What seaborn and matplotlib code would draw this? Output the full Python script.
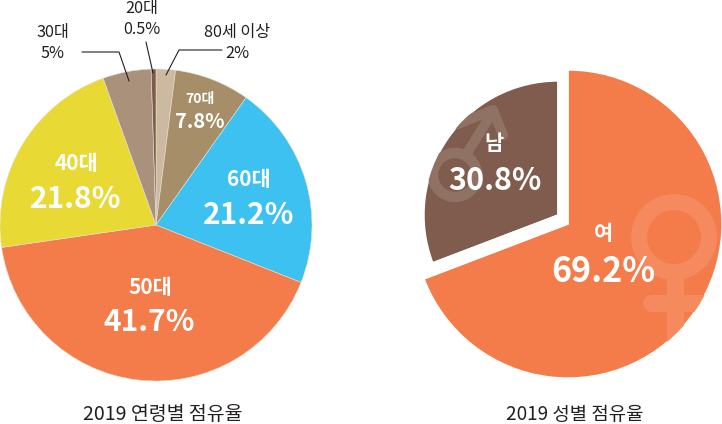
import seaborn as sns
import matplotlib.pyplot as plt
from matplotlib.patches import Circle

age_labels = ['80세 이상', '70대', '60대', '50대', '40대', '30대', '20대']
age_values = [2, 7.8, 21.2, 41.7, 21.8, 5, 0.5]
age_colors = ['#CDB9A0', '#A68F68', '#3CC1F0', '#F37C4A', '#E8D934', '#AA917B', '#7D5A4C']
gender_labels = ['남', '여']
gender_values = [30.8, 69.2]
gender_colors = ['#7F5C4D', '#F37C4A']

W, H = 722, 424
FONT = ['Noto Sans CJK KR', 'DejaVu Sans']


def py(y):
    # picture coords have y going down
    return H - y


def label(ax, x, y, s, size, color='white', weight='bold'):
    # +2 because va=center sits a little high for this font
    ax.text(x, py(y + 2), s, fontsize=size, color=color, weight=weight, family=FONT,
            ha='center', va='center')


def leader(ax, xs, ys):
    ax.plot(xs, [py(y) for y in ys], color='#231F20', lw=0.8, zorder=5)


def main():
    sns.set_theme(style='white')
    plt.rcParams['font.family'] = FONT
    fig = plt.figure(figsize=(W / 100, H / 100), dpi=100, facecolor='w')
    ax = fig.add_axes([0, 0, 1, 1])

    ax.pie(age_values, colors=age_colors, startangle=90, counterclock=False,
           center=(156, py(225)), radius=156,
           wedgeprops={'linewidth': 0.4, 'edgecolor': '#E8E0D4'})

    # the two gender slices have different centres and sizes
    male, _ = ax.pie([gender_values[0], gender_values[1]], colors=[gender_colors[0], 'none'],
                     startangle=90, counterclock=True, center=(558, py(215)), radius=134)
    female, _ = ax.pie([gender_values[1], gender_values[0]], colors=[gender_colors[1], 'none'],
                       startangle=90, counterclock=False, center=(568, py(224)), radius=154)

    # female sign, clipped by its slice
    f_col = '#F58A5E'
    ring = Circle((674, py(237)), 35, fill=False, ec=f_col, lw=16 * 0.72, zorder=3)
    ax.add_patch(ring)
    ring.set_clip_path(female[0])
    for xs, ys, cap in [([674.5, 674.5], [277, 380], 'butt'), ([651, 730], [302.5, 302.5], 'round')]:
        ln, = ax.plot(xs, [py(y) for y in ys], color=f_col, lw=17 * 0.72,
                      solid_capstyle=cap, zorder=3)
        ln.set_clip_path(female[0])

    # male sign
    m_col = '#8F7263'
    ring = Circle((455, py(175)), 22, fill=False, ec=m_col, lw=10.5 * 0.72, zorder=3)
    ax.add_patch(ring)
    ring.set_clip_path(male[0])
    for xs, ys in [([466, 492], [155, 113]), ([458, 493, 503], [124, 110, 135])]:
        ln, = ax.plot(xs, [py(y) for y in ys], color=m_col, lw=10 * 0.72,
                      solid_capstyle='round', solid_joinstyle='round', zorder=3)
        ln.set_clip_path(male[0])

    ax.set_xlim(0, W)
    ax.set_ylim(0, H)
    ax.set_aspect('equal')
    ax.axis('off')

    leader(ax, [82, 119, 129], [52, 52, 81])
    leader(ax, [146, 153], [42, 73])
    leader(ax, [222, 179, 166], [50, 50, 75])

    dark = '#231F20'
    label(ax, 53, 31, age_labels[5], 11.7, dark, 'medium')
    label(ax, 53, 51, '5%', 11.7, dark, 'medium')
    label(ax, 142, 6, age_labels[6], 11.7, dark, 'medium')
    label(ax, 142, 28, '0.5%', 11.7, dark, 'medium')
    label(ax, 237, 30, age_labels[0], 11.7, dark, 'medium')
    label(ax, 237, 51, '2%', 11.7, dark, 'medium')

    label(ax, 200, 97, age_labels[1], 10)
    label(ax, 200, 119, '7.8%', 14.5)
    label(ax, 249, 178, age_labels[2], 15)
    label(ax, 249, 213, '21.2%', 21.5)
    label(ax, 150, 285, age_labels[3], 15)
    label(ax, 149, 320, '41.7%', 21.5)
    label(ax, 76, 162, age_labels[4], 15)
    label(ax, 76, 197, '21.8%', 21.5)

    label(ax, 494, 142, gender_labels[0], 15)
    label(ax, 495, 179, '30.8%', 22)
    label(ax, 603, 232, gender_labels[1], 15)
    label(ax, 603, 269, '69.2%', 24.5)

    label(ax, 163, 413, '2019 연령별 점유율', 14, dark, 'medium')
    label(ax, 575, 413, '2019 성별 점유율', 13.6, dark, 'medium')

    plt.savefig('out.png', dpi=100, facecolor='w')


if __name__ == '__main__':
    main()
